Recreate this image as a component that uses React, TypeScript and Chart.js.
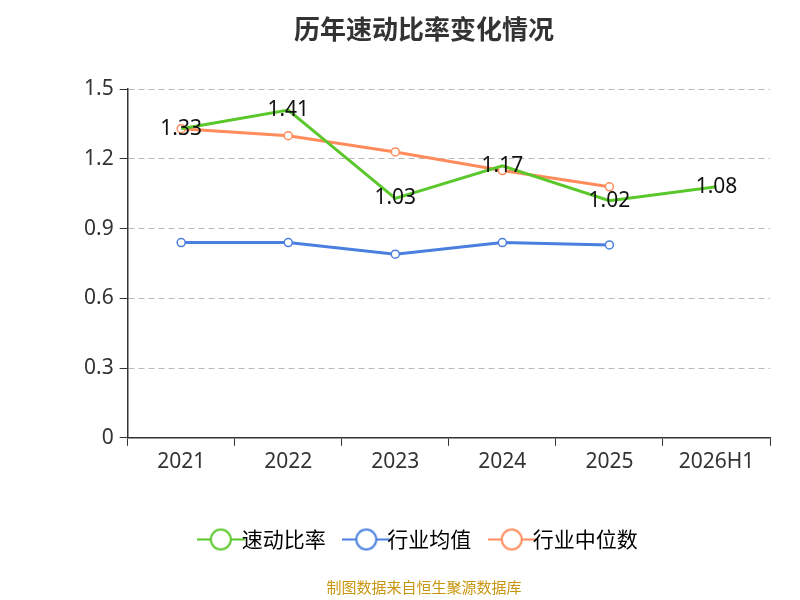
import React, { useEffect, useRef } from "react";
import { Chart, registerables } from "chart.js";
Chart.register(...registerables);

const categories = ["2021", "2022", "2023", "2024", "2025", "2026H1"];
const quickRatio = [1.33, 1.41, 1.03, 1.17, 1.02, 1.08];
const industryAvg = [0.84, 0.84, 0.79, 0.84, 0.83, null];
const industryMedian = [1.33, 1.3, 1.23, 1.15, 1.08, null];
const yTicks = [0, 0.3, 0.6, 0.9, 1.2, 1.5];
const names = ["速动比率", "行业均值", "行业中位数"];
const colors = ["#5ac72b", "#4a7fe0", "#ff8c5a"];

function legendIcon(color: string) {
  const c = document.createElement("canvas");
  c.width = 48; c.height = 24;
  const g = c.getContext("2d")!;
  g.strokeStyle = color; g.lineWidth = 2;
  g.beginPath(); g.moveTo(0, 12); g.lineTo(48, 12); g.stroke();
  g.fillStyle = "#fff";
  g.beginPath(); g.arc(24, 12, 10, 0, Math.PI * 2); g.fill(); g.stroke();
  return c;
}

const labelPlugin = {
  id: "lbl",
  afterDatasetsDraw(chart: any) {
    const ctx = chart.ctx;
    const meta = chart.getDatasetMeta(0);
    ctx.save();
    ctx.font = "21px 'Noto Sans', sans-serif";
    ctx.fillStyle = "#111";
    ctx.textAlign = "center";
    ctx.textBaseline = "middle";
    meta.data.forEach((p: any, i: number) => {
      ctx.fillText(quickRatio[i].toFixed(2), p.x, p.y);
    });
    ctx.restore();
  },
};

export default function App() {
  const ref = useRef<HTMLCanvasElement>(null);
  useEffect(() => {
    const series = [quickRatio, industryAvg, industryMedian];
    const chart = new Chart(ref.current!, {
      type: "line",
      data: {
        labels: categories,
        datasets: series.map((d, i) => ({
          label: names[i],
          data: d,
          borderColor: colors[i],
          backgroundColor: "#fff",
          borderWidth: 3,
          pointRadius: i === 0 ? 0 : 4,
          pointBorderWidth: 1.5,
          pointBackgroundColor: "#fff",
          pointBorderColor: colors[i],
          tension: 0,
          spanGaps: false,
        })),
      },
      options: {
        animation: false,
        responsive: false,
        layout: { padding: { left: 78, right: 30, top: 10, bottom: 0 } },
        plugins: {
          title: {
            display: true, text: "历年速动比率变化情况", color: "#333",
            font: { size: 26, weight: "bold", family: "'Noto Sans CJK SC'" },
            padding: { top: 4, bottom: 44 },
          },
          legend: {
            position: "bottom",
            labels: {
              usePointStyle: true,
              font: { size: 21, family: "'Noto Sans CJK SC'" },
              color: "#333",
              padding: 30,
              generateLabels: () =>
                names.map((n, i) => ({
                  text: n, pointStyle: legendIcon(colors[i]) as any,
                  fillStyle: "#fff", strokeStyle: colors[i], lineWidth: 0,
                  datasetIndex: i, hidden: false,
                })),
            },
          },
          tooltip: { enabled: false },
          subtitle: {
            display: true, position: "bottom", text: "制图数据来自恒生聚源数据库",
            color: "#c8960c", font: { size: 15, family: "'Noto Sans CJK SC'" },
            padding: { top: 18, bottom: 4 },
          },
        },
        scales: {
          x: {
            offset: true,
            afterFit: (s: any) => { s.height += 20; },
            grid: { display: true, drawOnChartArea: false, offset: true, color: "#333", tickLength: 8 },
            border: { color: "#333", width: 1.5 },
            ticks: { color: "#333", font: { size: 21, family: "'Noto Sans'" }, padding: 4 },
          },
          y: {
            min: 0, max: 1.5,
            afterBuildTicks: (s: any) => { s.ticks = yTicks.map((v) => ({ value: v })); },
            grid: { color: "#bbb", drawTicks: true, tickLength: 8, tickColor: "#333" } as any,
            border: { color: "#333", width: 1.5, dash: [6, 4] } as any,
            ticks: { color: "#333", font: { size: 21, family: "'Noto Sans'" }, padding: 6,
              callback: (v: any) => (v === 0 ? "0" : Number(v).toFixed(1)) },
          },
        },
      },
      plugins: [labelPlugin],
    });
    return () => chart.destroy();
  }, []);
  return (
    <div style={{ position: "absolute", left: 0, top: 0 }}>
      <canvas ref={ref} width={800} height={600} style={{ width: 800, height: 600 }} />
    </div>
  );
}
